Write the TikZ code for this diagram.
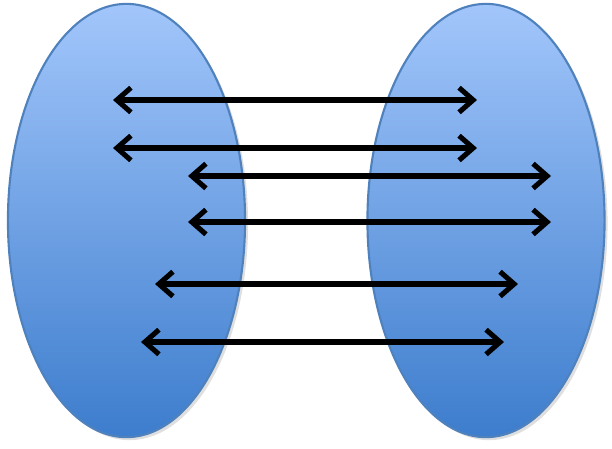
\documentclass[tikz,border=0pt]{standalone}
\usetikzlibrary{shapes.geometric, arrows.meta, shadows}
\definecolor{settop}{HTML}{A2C6FB}
\definecolor{setbot}{HTML}{3D7DCD}
\definecolor{setedge}{HTML}{4F81BD}
\tikzstyle{set}=[ellipse, draw=setedge, line width=0.6pt, top color=settop, bottom color=setbot, minimum width=2.37cm, minimum height=4.33cm, inner sep=0pt, drop shadow={opacity=0.25, shadow xshift=0.03cm, shadow yshift=-0.03cm}]
\tikzstyle{map}=[line width=1.45pt, {Straight Barb[length=4pt, width=7pt]}-{Straight Barb[length=4pt, width=7pt]}]

\begin{document}
\begin{tikzpicture}[x=0.01cm, y=-0.01cm]
    \useasboundingbox (0,0) rectangle (612,448);
    \node[set] (A) at (126.5,220.5) {};
    \node[set] (B) at (486,220.5) {};
    \coordinate (a1) at (113,100);
    \coordinate (b1) at (477,100);
    \coordinate (a2) at (113,148);
    \coordinate (b2) at (477,148);
    \coordinate (a3) at (188,176);
    \coordinate (b3) at (551,176);
    \coordinate (a4) at (188,222);
    \coordinate (b4) at (551,222);
    \coordinate (a5) at (155,284);
    \coordinate (b5) at (518,284);
    \coordinate (a6) at (141,342);
    \coordinate (b6) at (504,342);
    \draw[map] (a1) -- (b1);
    \draw[map] (a2) -- (b2);
    \draw[map] (a3) -- (b3);
    \draw[map] (a4) -- (b4);
    \draw[map] (a5) -- (b5);
    \draw[map] (a6) -- (b6);
\end{tikzpicture}
\end{document}
